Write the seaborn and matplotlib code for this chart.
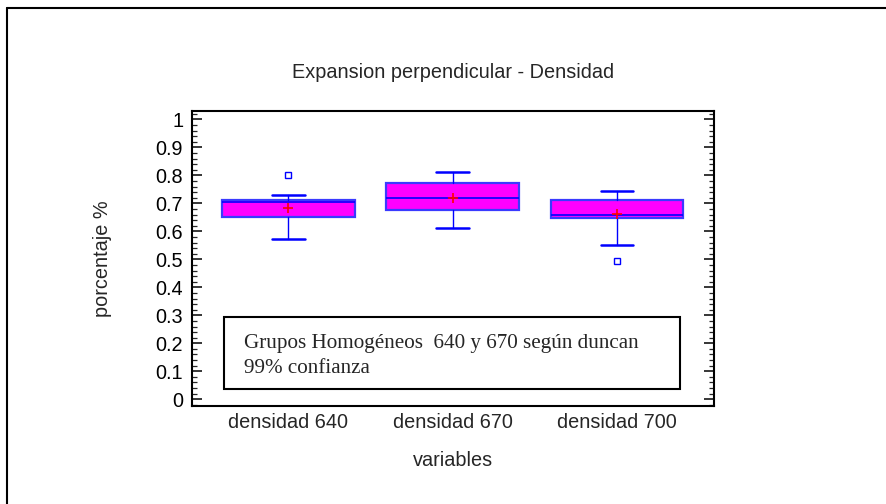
import matplotlib
matplotlib.use("Agg")
import matplotlib.pyplot as plt
import matplotlib.ticker as mticker
from matplotlib.patches import Rectangle
from matplotlib.lines import Line2D
import seaborn as sns
import pandas as pd

# ---- data ----
categories = ["densidad 640", "densidad 670", "densidad 700"]
q1 = [0.651, 0.675, 0.648]
medians = [0.704, 0.720, 0.660]
q3 = [0.713, 0.771, 0.712]
whisk_lo = [0.573, 0.612, 0.552]
whisk_hi = [0.730, 0.813, 0.743]
means = [0.682, 0.720, 0.663]
outliers = [[0.801], [], [0.495]]
ytick_vals = [0, 0.1, 0.2, 0.3, 0.4, 0.5, 0.6, 0.7, 0.8, 0.9, 1.0]
ytick_labels = ["0", "0.1", "0.2", "0.3", "0.4", "0.5", "0.6", "0.7", "0.8", "0.9", "1"]
title = "Expansion perpendicular - Densidad"
xlabel = "variables"
ylabel = "porcentaje %"
note_lines = ["Grupos Homogéneos  640 y 670 según duncan", "99% confianza"]

sns.set_theme(style="white")
plt.rcParams["font.family"] = ["Liberation Sans", "DejaVu Sans"]

fig = plt.figure(figsize=(8.87, 5.04), dpi=100)
ax = fig.add_axes([192 / 887, 1 - 406 / 504, (714 - 192) / 887, (406 - 110.7) / 504])

stats = []
for i, c in enumerate(categories):
    stats.append(dict(label=c, q1=q1[i], med=medians[i], q3=q3[i],
                      whislo=whisk_lo[i], whishi=whisk_hi[i],
                      mean=means[i], fliers=outliers[i]))

ax.bxp(stats, positions=range(len(categories)), widths=0.807, capwidths=0.2,
       patch_artist=True, showmeans=False, showfliers=True,
       boxprops=dict(facecolor="#ff00ff", edgecolor="#3a3aff", linewidth=1.6),
       medianprops=dict(color="#0000ff", linewidth=1.2),
       whiskerprops=dict(color="#0000ff", linewidth=1.0),
       capprops=dict(color="#0000ff", linewidth=1.8),
       flierprops=dict(marker="s", markersize=4.5, markerfacecolor="none",
                       markeredgecolor="#0000ff", markeredgewidth=1.0))

mean_df = pd.DataFrame({"x": list(range(len(categories))), "mean": means})
sns.scatterplot(data=mean_df, x="x", y="mean", marker="+", color="red",
                s=60, linewidth=1.2, ax=ax, zorder=5, legend=False)

ax.set_xlim(-0.587, 2.59)
ax.set_ylim(-0.024, 1.031)
ax.set_xticks(range(len(categories)))
ax.set_xticklabels(categories, fontsize=14.3)
ax.set_yticks(ytick_vals)
ax.set_yticklabels(ytick_labels, fontsize=14.3)
ax.yaxis.set_minor_locator(mticker.MultipleLocator(0.02))
ax.tick_params(axis="y", which="major", direction="in", length=7.2, width=1.1,
               left=True, right=True, pad=6.3, colors="black")
ax.tick_params(axis="y", which="minor", direction="in", length=3.6, width=0.9,
               left=True, right=True)
ax.tick_params(axis="x", which="both", length=0, pad=5)
ax.set_xlabel("")
ax.set_ylabel("")

for s in ax.spines.values():
    s.set_visible(True)
    s.set_color("black")
    s.set_linewidth(1.5)

ax.text(0.5, (406 - 73) / 295.3, title, transform=ax.transAxes,
        ha="center", va="center", fontsize=14.3)
ax.text(0.5, (406 - 461) / 295.3, xlabel, transform=ax.transAxes,
        ha="center", va="center", fontsize=14.3)
ax.text((103 - 192) / 522, 0.5, ylabel, transform=ax.transAxes, rotation=90,
        ha="center", va="center", fontsize=14.3)

# annotation box
ax.add_patch(Rectangle((-0.394, 0.036), 2.383 + 0.394, 0.293 - 0.036,
                       facecolor="white", edgecolor="black", linewidth=1.5, zorder=3))
ax.text(-0.273, 0.183, note_lines[0], family=["Liberation Serif", "DejaVu Serif"],
        fontsize=15.2, va="baseline", ha="left", zorder=4)
ax.text(-0.273, 0.094, note_lines[1], family=["Liberation Serif", "DejaVu Serif"],
        fontsize=15.2, va="baseline", ha="left", zorder=4)

# outer frame (left and top edges visible)
fig.add_artist(Line2D([7.5 / 887, 7.5 / 887], [0, 1 - 7.5 / 504],
                      transform=fig.transFigure, color="black", linewidth=1.5))
fig.add_artist(Line2D([7.5 / 887, 1], [1 - 7.5 / 504, 1 - 7.5 / 504],
                      transform=fig.transFigure, color="black", linewidth=1.5))

fig.savefig("out.png", dpi=100, facecolor="white")
